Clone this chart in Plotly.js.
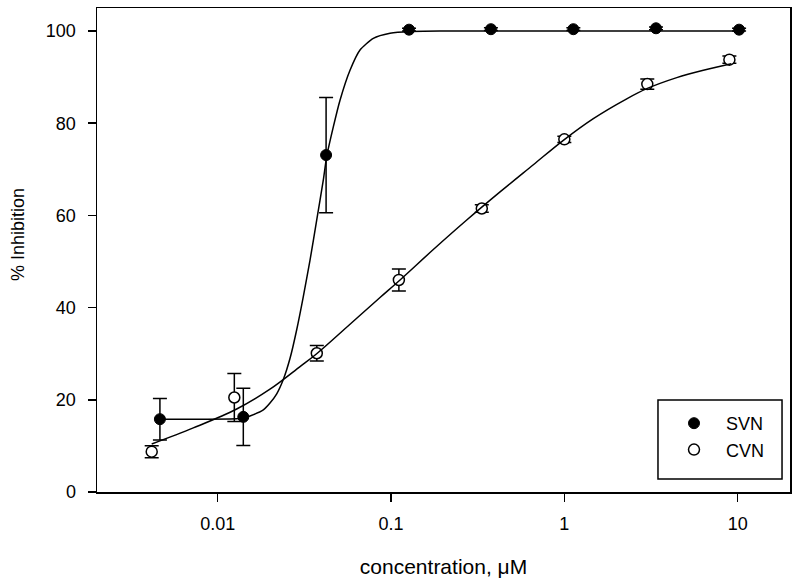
<!DOCTYPE html>
<html>
<head>
<meta charset="utf-8">
<script src="https://cdn.plot.ly/plotly-3.0.1.min.js"></script>
<style>html,body{margin:0;padding:0;background:#fff;}#chart{width:800px;height:586px;}</style>
</head>
<body>
<div id="chart"></div>
<script>
// Measured points
const svnConc = [0.00464, 0.01405, 0.0422, 0.127, 0.377, 1.127, 3.38, 10.19];
const svnInhib = [15.8, 16.3, 73.1, 100.3, 100.4, 100.4, 100.6, 100.3];
const svnErr = [4.5, 6.2, 12.5, 0.3, 0.3, 0.3, 0.3, 0.3];

const cvnConc = [0.00416, 0.01247, 0.0373, 0.111, 0.334, 1.0, 3.01, 8.96];
const cvnInhib = [8.75, 20.5, 30.1, 46.0, 61.5, 76.5, 88.5, 93.8];
const cvnErr = [1.3, 5.2, 1.7, 2.4, 0.8, 0.7, 1.1, 0.8];

// Fitted curves
const svnFitConc = [0.00464, 0.01288, 0.01406, 0.01536, 0.01833, 0.02003, 0.0219, 0.0239, 0.02614, 0.02856, 0.03118, 0.03409, 0.03725, 0.04068, 0.04255, 0.04645, 0.05077, 0.05799, 0.06623, 0.07903, 0.09867, 0.1287, 0.2, 10.19];
const svnFitInhib = [15.8, 15.9, 16.1, 16.5, 17.8, 19.3, 21.3, 24.4, 29.0, 35.2, 42.4, 50.3, 59.0, 67.7, 72.8, 79.2, 85.0, 91.5, 95.9, 98.4, 99.5, 99.9, 100.0, 100.0];

const cvnFitConc = [0.00416, 0.00723, 0.01287, 0.02003, 0.02985, 0.03725, 0.05799, 0.0864, 0.1127, 0.1754, 0.2734, 0.4256, 0.6625, 0.9867, 1.47, 2.291, 2.989, 4.452, 6.342, 9.2];
const cvnFitInhib = [10.4, 13.9, 18.0, 22.3, 27.2, 30.0, 36.4, 42.2, 46.0, 52.6, 59.0, 65.1, 71.0, 76.3, 81.0, 85.3, 87.5, 89.9, 91.5, 92.9];

const xTickVals = [0.01, 0.1, 1, 10];
const xTickText = ['0.01', '0.1', '1', '10'];
const yTickVals = [0, 20, 40, 60, 80, 100];

const font = 'Liberation Sans, Arial, sans-serif';

const traces = [
  {
    x: svnConc, y: svnInhib, name: 'SVN', type: 'scatter', mode: 'markers',
    marker: {symbol: 'circle', size: 11, color: '#000', line: {color: '#000', width: 1}},
    error_y: {type: 'data', array: svnErr, visible: true, color: '#000', thickness: 1.5, width: 7}
  },
  {
    x: cvnConc, y: cvnInhib, name: 'CVN', type: 'scatter', mode: 'markers',
    marker: {symbol: 'circle', size: 11, color: '#fff', line: {color: '#000', width: 1.5}},
    error_y: {type: 'data', array: cvnErr, visible: true, color: '#000', thickness: 1.5, width: 7}
  },
  {
    x: svnFitConc, y: svnFitInhib, type: 'scatter', mode: 'lines', showlegend: false,
    line: {color: '#000', width: 1.5, shape: 'spline', smoothing: 0.6}, hoverinfo: 'skip'
  },
  {
    x: cvnFitConc, y: cvnFitInhib, type: 'scatter', mode: 'lines', showlegend: false,
    line: {color: '#000', width: 1.5, shape: 'spline', smoothing: 1}, hoverinfo: 'skip'
  }
];

const layout = {
  width: 800, height: 586,
  margin: {l: 97, r: 10, t: 8, b: 94},
  paper_bgcolor: '#fff', plot_bgcolor: '#fff',
  font: {family: font, color: '#000', size: 18},
  showlegend: true,
  legend: {
    x: 0.8153, y: 0.1798, xanchor: 'left', yanchor: 'top',
    bgcolor: 'rgba(0,0,0,0)', borderwidth: 0,
    font: {family: font, size: 18, color: '#000'},
    itemwidth: 54
  },
  shapes: [{
    type: 'rect', xref: 'paper', yref: 'paper',
    x0: 0.8095, x1: 0.9885, y0: 0.0269, y1: 0.1901,
    line: {color: '#000', width: 1.5}
  }],
  xaxis: {
    type: 'log', range: [-2.6965, 1.302],
    tickvals: xTickVals, ticktext: xTickText,
    ticks: 'outside', ticklen: 8, tickwidth: 1.5, tickcolor: '#000',
    showline: true, linecolor: '#000', linewidth: 1.5, mirror: true,
    showgrid: false, zeroline: false,
    tickfont: {family: font, size: 18, color: '#000'},
    ticklabelstandoff: 7,
    title: {text: 'concentration, μM', font: {family: font, size: 21, color: '#000'}, standoff: 26}
  },
  yaxis: {
    range: [0, 105],
    tickvals: yTickVals,
    ticks: 'outside', ticklen: 8, tickwidth: 1.5, tickcolor: '#000',
    showline: true, linecolor: '#000', linewidth: 1.5, mirror: true,
    showgrid: false, zeroline: false,
    tickfont: {family: font, size: 18, color: '#000'},
    ticklabelstandoff: 8
  },
  annotations: [{
    text: '% Inhibition', xref: 'paper', yref: 'paper', x: -0.114, y: 0.533,
    xanchor: 'center', yanchor: 'middle', textangle: -90, showarrow: false,
    font: {family: font, size: 18, color: '#000'}
  }]
};

Plotly.newPlot('chart', traces, layout, {displayModeBar: false, staticPlot: true});
</script>
</body>
</html>
